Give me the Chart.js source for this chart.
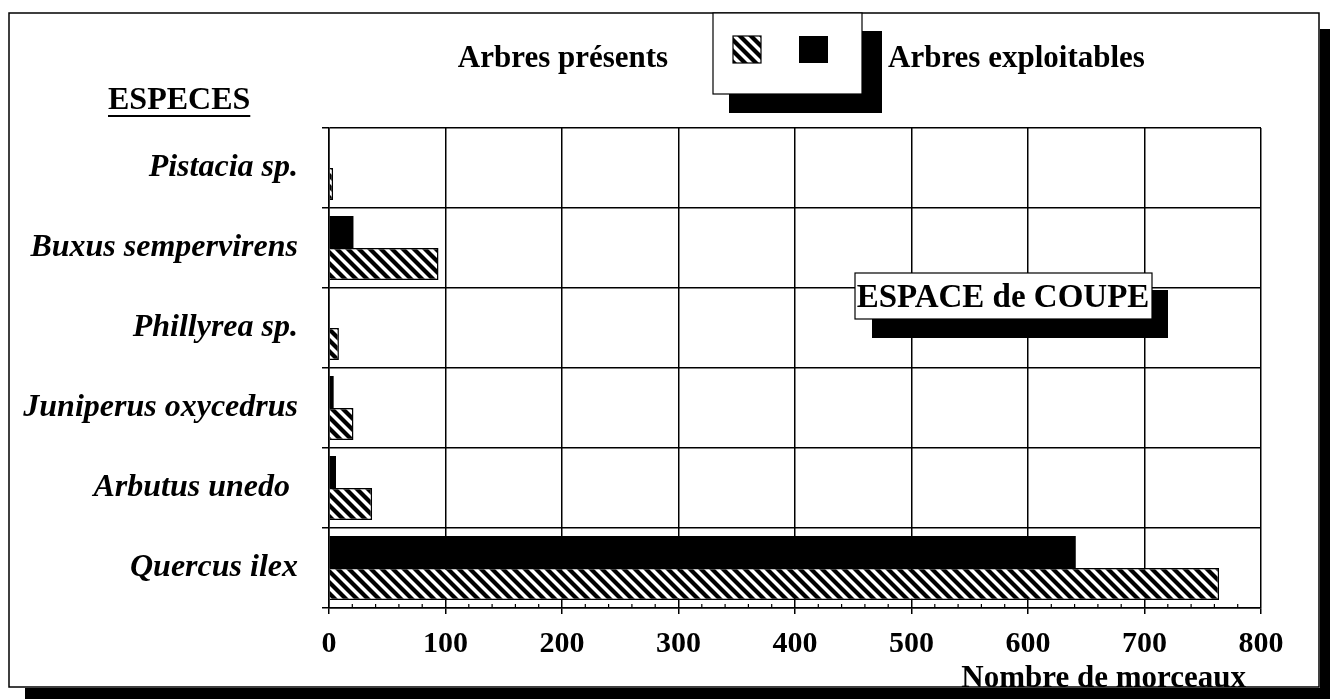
<!DOCTYPE html>
<html>
<head>
<meta charset="utf-8">
<script src="https://cdn.jsdelivr.net/npm/chart.js@4.4.0/dist/chart.umd.min.js"></script>
<style>
  body { margin: 0; background: #fff; }
  #wrap { width: 1330px; height: 699px; }
</style>
</head>
<body>
<div id="wrap"><canvas id="chart" width="1330" height="699"></canvas></div>
<script>
// species, top to bottom
const especes = ['Pistacia sp.', 'Buxus sempervirens', 'Phillyrea sp.', 'Juniperus oxycedrus', 'Arbutus unedo ', 'Quercus ilex'];
const arbresExploitables = [0, 21, 0.6, 4, 6, 641];
const arbresPresents = [3.5, 94, 8.5, 21, 37, 764];
const xTicks = [0, 100, 200, 300, 400, 500, 600, 700, 800];

const SERIF = "'Liberation Serif', 'Times New Roman', serif";

// hatch pattern (\\\ stripes)
function makeHatch() {
    const size = 11;
    const c = document.createElement('canvas');
    c.width = size;
    c.height = size;
    const g = c.getContext('2d');
    g.fillStyle = '#fff';
    g.fillRect(0, 0, size, size);
    g.strokeStyle = '#000';
    g.lineWidth = 4.2;
    for (let o = -size; o <= size; o += size) {
        g.beginPath();
        g.moveTo(o - 2, -2);
        g.lineTo(o + size + 2, size + 2);
        g.stroke();
    }
    return g.createPattern(c, 'repeat');
}

const ctx = document.getElementById('chart').getContext('2d');
const hatch = makeHatch();

// frame, titles, legend box and the "ESPACE de COUPE" label
const decorPlugin = {
    id: 'decor',
    beforeDraw(chart) {
        const c = chart.ctx;
        c.save();
        c.fillStyle = '#fff';
        c.fillRect(0, 0, chart.width, chart.height);
        // shadow of the outer frame
        c.fillStyle = '#000';
        c.fillRect(1320, 29, 10, 670);
        c.fillRect(25, 688, 1305, 11);
        c.strokeStyle = '#000';
        c.lineWidth = 1.5;
        c.strokeRect(9, 13, 1310, 674);
        c.restore();
    },
    afterDraw(chart) {
        const c = chart.ctx;
        const x = chart.scales.x;
        const area = chart.chartArea;
        c.save();
        c.strokeStyle = '#000';
        c.fillStyle = '#000';

        // minor ticks on x axis
        c.lineWidth = 1.2;
        for (let v = 20; v < 800; v += 20) {
            if (v % 100 === 0) continue;
            const px = x.getPixelForValue(v);
            c.beginPath();
            c.moveTo(px, area.bottom);
            c.lineTo(px, area.bottom - 4);
            c.stroke();
        }

        // legend box with shadow
        c.fillRect(729, 31, 153, 82);
        c.fillStyle = '#fff';
        c.fillRect(713, 13, 149, 81);
        c.lineWidth = 1.2;
        c.strokeRect(713, 13, 149, 81);
        c.fillStyle = hatch;
        c.fillRect(733, 36, 28, 27);
        c.strokeRect(733, 36, 28, 27);
        c.fillStyle = '#000';
        c.fillRect(799, 36, 29, 27);

        c.font = 'bold 31px ' + SERIF;
        c.textBaseline = 'middle';
        c.textAlign = 'center';
        c.fillText('Arbres présents', 563, 59);
        c.textAlign = 'left';
        c.fillText('Arbres exploitables', 888, 59);

        // ESPECES
        c.font = 'bold 32px ' + SERIF;
        c.fillText('ESPECES', 108, 101);
        const w = c.measureText('ESPECES').width;
        c.lineWidth = 2;
        c.beginPath();
        c.moveTo(108, 116);
        c.lineTo(108 + w, 116);
        c.stroke();

        // x axis title
        c.font = 'bold 31px ' + SERIF;
        c.textAlign = 'right';
        c.fillText('Nombre de morceaux', 1246, 679);

        // ESPACE de COUPE box
        c.fillStyle = '#000';
        c.fillRect(872, 290, 296, 48);
        c.fillStyle = '#fff';
        c.fillRect(855, 273, 297, 46);
        c.lineWidth = 1.2;
        c.strokeRect(855, 273, 297, 46);
        c.fillStyle = '#000';
        c.font = 'bold 33px ' + SERIF;
        c.textAlign = 'center';
        c.fillText('ESPACE de COUPE', 1003, 298);
        c.restore();
    }
};

new Chart(ctx, {
    type: 'bar',
    data: {
        labels: especes,
        datasets: [{
            label: 'Arbres exploitables',
            data: arbresExploitables,
            backgroundColor: '#000',
            borderColor: '#000',
            borderWidth: 0
        }, {
            label: 'Arbres présents',
            data: arbresPresents,
            backgroundColor: hatch,
            borderColor: '#000',
            borderWidth: 1.5
        }]
    },
    options: {
        indexAxis: 'y',
        responsive: false,
        animation: false,
        datasets: {
            bar: {
                categoryPercentage: 0.8,
                barPercentage: 1.0
            }
        },
        layout: {
            padding: { top: 128, right: 69, left: 0, bottom: 0 }
        },
        plugins: {
            legend: { display: false },
            tooltip: { enabled: false }
        },
        scales: {
            x: {
                min: 0,
                max: 800,
                afterFit(scale) { scale.height = 91; },
                afterBuildTicks(scale) { scale.ticks = xTicks.map(v => ({ value: v })); },
                grid: { color: '#000', lineWidth: 1.5, tickLength: 6 },
                border: { color: '#000', width: 1.5 },
                ticks: {
                    color: '#000',
                    padding: 12,
                    font: { family: SERIF, size: 30, weight: 'bold' }
                }
            },
            y: {
                afterFit(scale) { scale.width = 329; },
                grid: { color: '#000', lineWidth: 1.5, tickLength: 7 },
                border: { color: '#000', width: 1.5 },
                ticks: {
                    color: '#000',
                    padding: 24,
                    font: { family: SERIF, size: 32, weight: 'bold', style: 'italic' }
                }
            }
        }
    },
    plugins: [decorPlugin]
});
</script>
</body>
</html>
